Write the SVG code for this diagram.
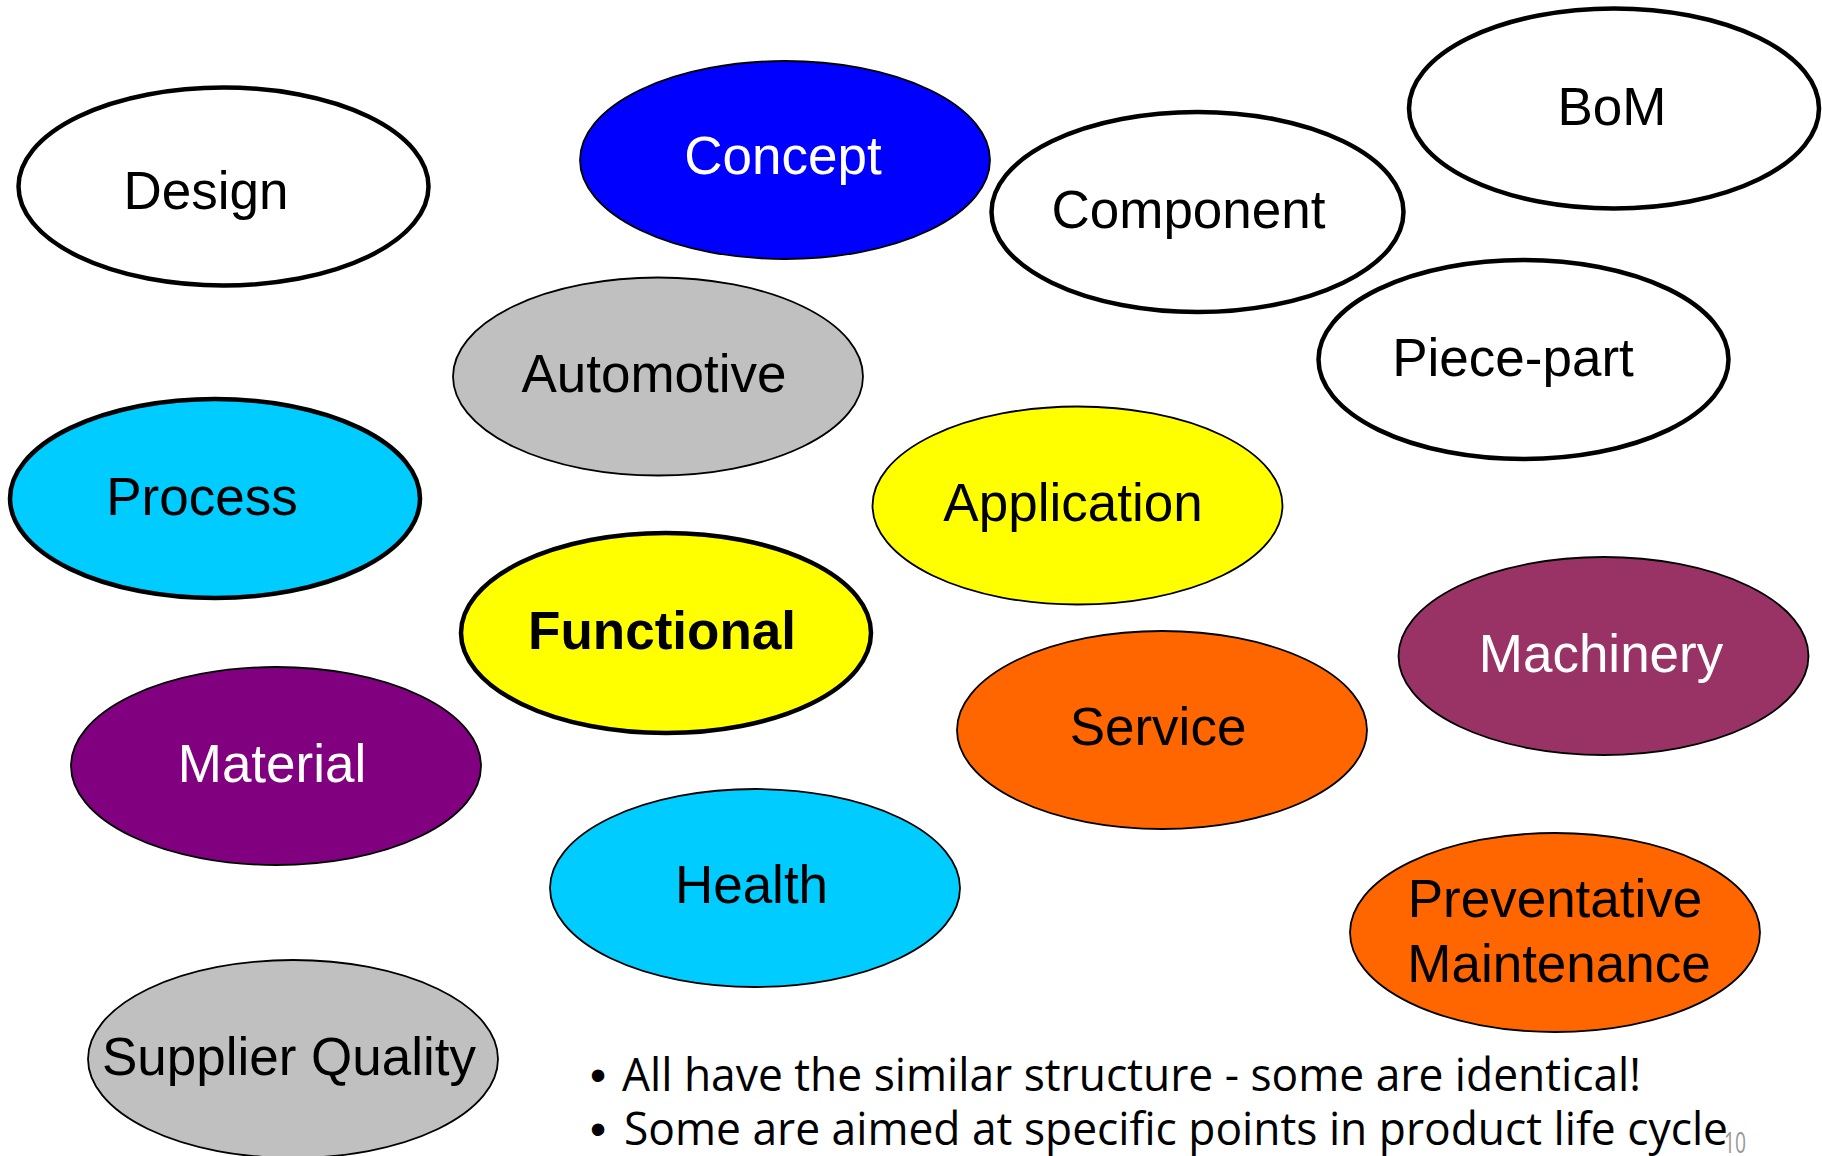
<svg xmlns="http://www.w3.org/2000/svg" width="1822" height="1156" viewBox="0 0 1822 1156">
<style>
.n ellipse{stroke:#000}
.thick{stroke-width:4.5}
.thin{stroke-width:1.8}
.t{font-family:"Liberation Sans",Arial,sans-serif;font-size:53px;text-anchor:middle;fill:#000}
.w{fill:#fff}
.b{font-family:"Open Sans","Noto Sans",sans-serif;font-size:46px;fill:#000}
.dot{font-family:"Liberation Sans",Arial,sans-serif;font-size:46px;fill:#000}
</style>
<rect width="1822" height="1156" fill="#fff"/>
<g id="connectors"></g>
<g id="design" class="n"><ellipse cx="223.5" cy="186.5" rx="205" ry="99" fill="#fff" class="thick"/><text class="t" x="206" y="209">Design</text></g>
<g id="concept" class="n"><ellipse cx="785" cy="160" rx="205" ry="99" fill="#0000ff" class="thin"/><text class="t w" x="783" y="174">Concept</text></g>
<g id="component" class="n"><ellipse cx="1197.5" cy="212" rx="206" ry="100" fill="#fff" class="thick"/><text class="t" x="1188.5" y="228">Component</text></g>
<g id="bom" class="n"><ellipse cx="1614" cy="108.5" rx="205" ry="100" fill="#fff" class="thick"/><text class="t" x="1612" y="125">BoM</text></g>
<g id="automotive" class="n"><ellipse cx="658" cy="376.5" rx="205" ry="99" fill="#c0c0c0" class="thin"/><text class="t" x="654" y="392">Automotive</text></g>
<g id="piece-part" class="n"><ellipse cx="1523.5" cy="359.5" rx="205" ry="99.5" fill="#fff" class="thick"/><text class="t" x="1513" y="376">Piece-part</text></g>
<g id="process" class="n"><ellipse cx="215" cy="498.5" rx="205" ry="99.5" fill="#00ccff" class="thick"/><text class="t" x="202" y="515">Process</text></g>
<g id="application" class="n"><ellipse cx="1077.5" cy="505.5" rx="205" ry="99" fill="#ffff00" class="thin"/><text class="t" x="1073" y="521">Application</text></g>
<g id="functional" class="n"><ellipse cx="666" cy="633" rx="205" ry="100" fill="#ffff00" class="thick"/><text class="t" x="662" y="649" font-weight="bold">Functional</text></g>
<g id="machinery" class="n"><ellipse cx="1603.5" cy="656" rx="205" ry="99" fill="#993366" class="thin"/><text class="t w" x="1601" y="672">Machinery</text></g>
<g id="service" class="n"><ellipse cx="1162" cy="730" rx="205" ry="99" fill="#ff6600" class="thin"/><text class="t" x="1158" y="745">Service</text></g>
<g id="material" class="n"><ellipse cx="276" cy="766" rx="205" ry="99" fill="#800080" class="thin"/><text class="t w" x="272" y="782">Material</text></g>
<g id="health" class="n"><ellipse cx="755" cy="888" rx="205" ry="99" fill="#00ccff" class="thin"/><text class="t" x="751.5" y="903">Health</text></g>
<g id="preventative-maintenance" class="n"><ellipse cx="1555" cy="932.5" rx="205" ry="99.5" fill="#ff6600" class="thin"/><text class="t" x="1555" y="917">Preventative</text><text class="t" x="1559" y="982">Maintenance</text></g>
<g id="supplier-quality" class="n"><ellipse cx="293" cy="1059" rx="205" ry="99" fill="#c0c0c0" class="thin"/><text class="t" x="289" y="1075">Supplier Quality</text></g>
<g id="notes">
<text class="dot" x="590" y="1091">•</text>
<text class="b" x="622" y="1091" textLength="1019" lengthAdjust="spacingAndGlyphs">All have the similar structure - some are identical!</text>
<text class="dot" x="590" y="1145">•</text>
<text class="b" x="624" y="1145" textLength="1104" lengthAdjust="spacingAndGlyphs">Some are aimed at specific points in product life cycle</text>
<text x="1724" y="1153" font-family="Open Sans,sans-serif" font-size="30" fill="#999" textLength="22" lengthAdjust="spacingAndGlyphs">10</text>
</g>
</svg>
